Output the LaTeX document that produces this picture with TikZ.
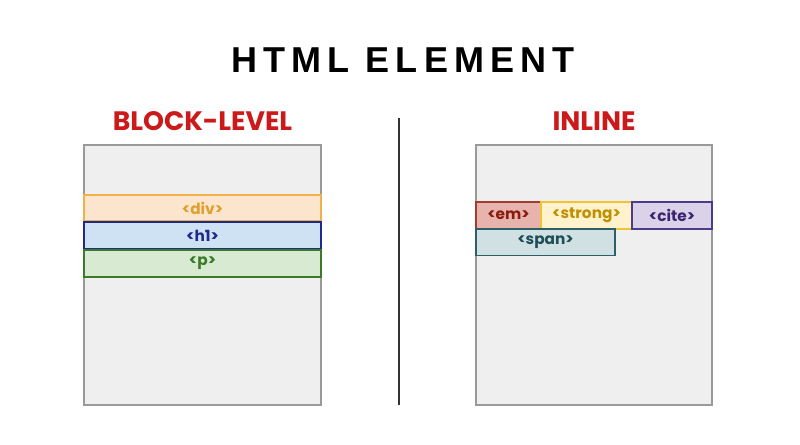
\documentclass[tikz,border=0pt]{standalone}
\usepackage{fontspec}
\setmainfont{Poppins}
\newfontfamily\titlefont[LetterSpace=17]{Liberation Sans}
\usetikzlibrary{positioning}
\definecolor{headred}{HTML}{CC1A1A}
\definecolor{panelgray}{HTML}{EFEFEF}
\definecolor{panelline}{HTML}{9A9A9A}
\definecolor{divfill}{HTML}{FCE5CD}
\definecolor{divline}{HTML}{F0B04A}
\definecolor{divtext}{HTML}{E0A030}
\definecolor{hfill}{HTML}{CFE2F3}
\definecolor{hline}{HTML}{1F2A8A}
\definecolor{pfill}{HTML}{D9EAD3}
\definecolor{pline}{HTML}{3A7A28}
\definecolor{emfill}{HTML}{E6B4AC}
\definecolor{emline}{HTML}{A33B2E}
\definecolor{emtext}{HTML}{8B1A10}
\definecolor{strongfill}{HTML}{FFF2CC}
\definecolor{strongline}{HTML}{F1C232}
\definecolor{strongtext}{HTML}{BF9000}
\definecolor{citefill}{HTML}{D9D2E9}
\definecolor{citeline}{HTML}{4E3A8A}
\definecolor{citetext}{HTML}{3D2370}
\definecolor{spanfill}{HTML}{D0E0E3}
\definecolor{spanline}{HTML}{2F5F66}
\definecolor{spantext}{HTML}{1F4E57}
\begin{document}
\begin{tikzpicture}[x=0.75pt,y=-0.75pt,
    panel/.style={draw=panelline,fill=panelgray,line width=0.8pt},
    head/.style={text=headred,font=\fontsize{20}{24}\selectfont\bfseries,inner sep=0pt},
    tag/.style={rectangle,line width=1.4pt,inner sep=0pt,outer sep=0pt,
        minimum height=20pt,font=\fontsize{11.5}{13}\selectfont\bfseries},
    block/.style={tag,minimum width=177.75pt}]

    \useasboundingbox[fill=white] (0,0) rectangle (800,445);

    \node[font=\titlefont\fontsize{27}{32}\selectfont\bfseries,inner sep=0pt]
        (title) at (403,60) {HTML ELEMENT};

    % block-level side
    \node[head] (blockhead) at (202.5,121) {BLOCK-LEVEL};
    \draw[panel] (84,145) rectangle (321,405);
    \node[block,fill=divfill,draw=divline,text=divtext] (div) at (202.5,208) {<div>};
    \node[block,fill=hfill,draw=hline,text=hline,below=0.75pt of div] (hone) {<h1>};
    \node[block,fill=pfill,draw=pline,text=pline,below=0.75pt of hone] (para) {<p>};

    \draw[line width=1.2pt,black!80] (399,118) -- (399,405);

    % inline side
    \node[head] (inlinehead) at (594,121) {INLINE};
    \draw[panel] (476,145) rectangle (712,405);
    \node[tag,minimum width=48.75pt,fill=emfill,draw=emline,text=emtext]
        (em) at (508.5,215.5) {<em>};
    \node[tag,minimum width=68.25pt,fill=strongfill,draw=strongline,text=strongtext,
        right=0pt of em] (strong) {<strong>};
    \node[tag,minimum width=60pt,fill=citefill,draw=citeline,text=citetext,
        right=0pt of strong] (cite) {<cite>};
    \node[tag,minimum width=104.25pt,fill=spanfill,draw=spanline,text=spantext,
        below right=0pt and 0pt of em.south west,anchor=north west] (span) {<span>};

  \end{tikzpicture}
\end{document}
